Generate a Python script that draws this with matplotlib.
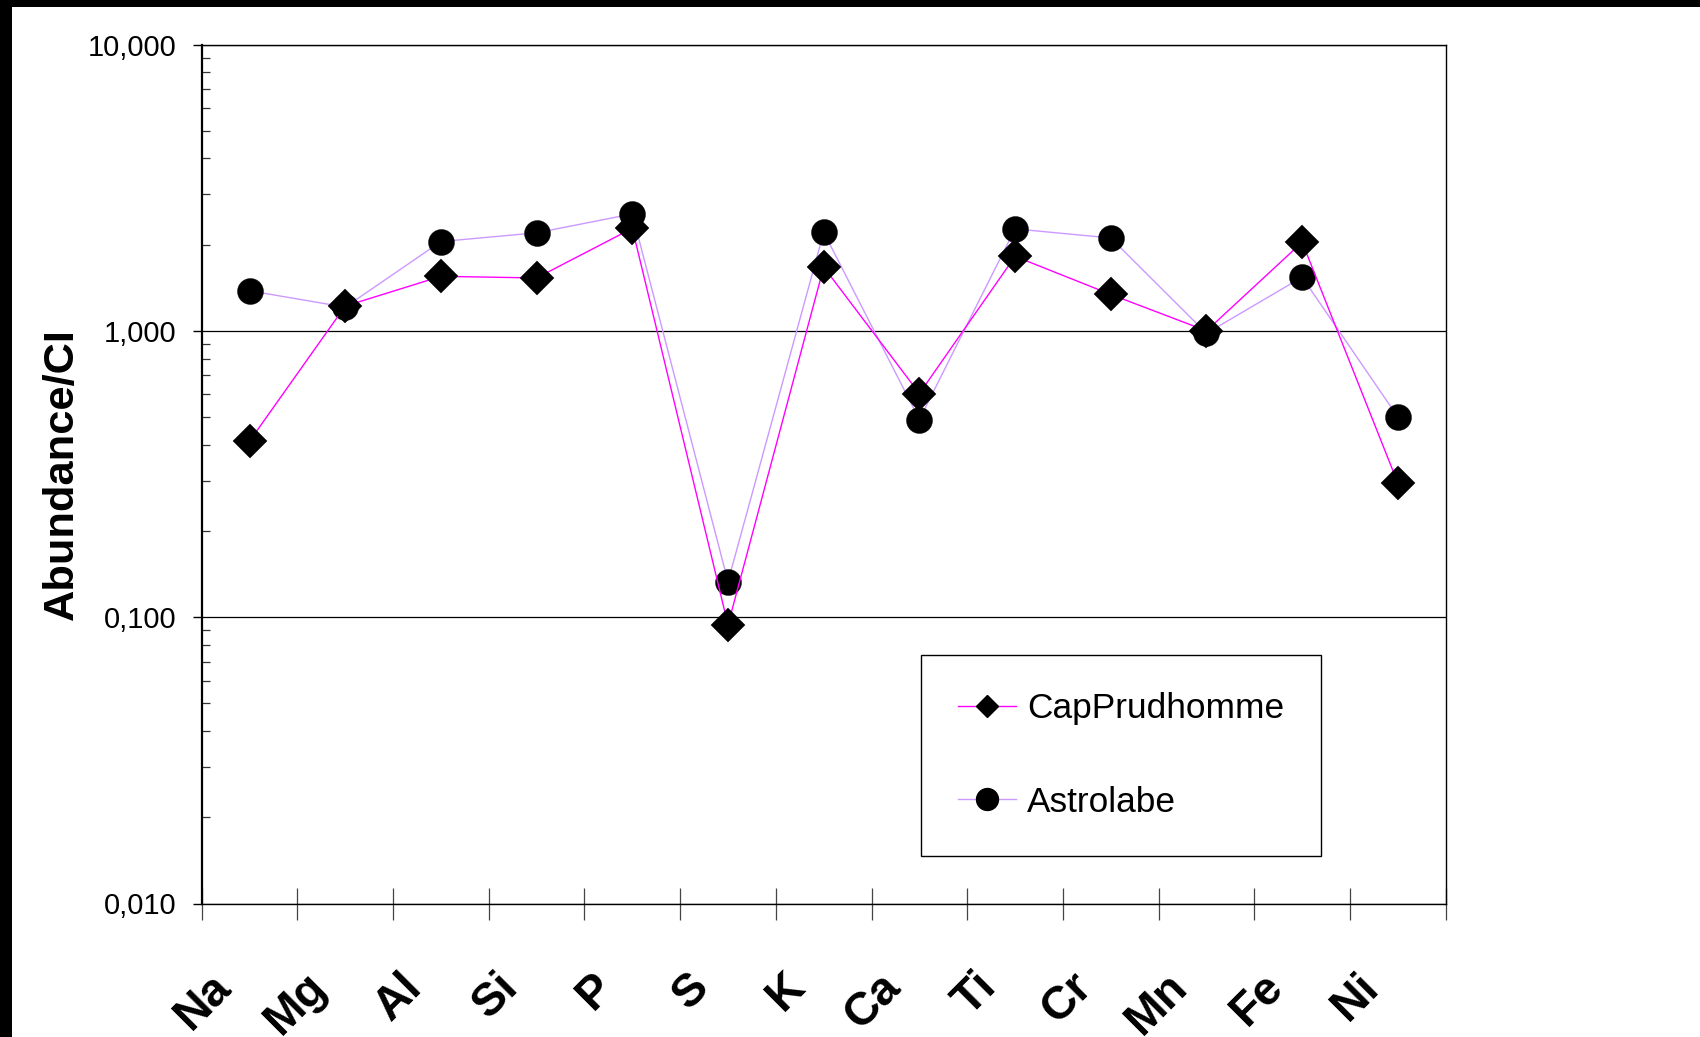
import matplotlib
matplotlib.use("Agg")
import matplotlib.pyplot as plt
from matplotlib.lines import Line2D
from matplotlib.patches import Rectangle
from matplotlib.transforms import ScaledTranslation
from matplotlib.ticker import FixedLocator, NullFormatter, LogLocator

plt.rcParams['font.family'] = ['Liberation Sans', 'DejaVu Sans']

elements = ['Na', 'Mg', 'Al', 'Si', 'P', 'S', 'K', 'Ca', 'Ti', 'Cr', 'Mn', 'Fe', 'Ni']
cap_prudhomme = [0.412, 1.22, 1.55, 1.53, 2.28, 0.094, 1.67, 0.604, 1.82, 1.34, 1.00, 2.04, 0.294]
astrolabe = [1.38, 1.21, 2.05, 2.20, 2.56, 0.133, 2.21, 0.49, 2.27, 2.11, 0.98, 1.54, 0.50]
ytick_values = [0.01, 0.1, 1, 10]
ytick_labels = ['0,010', '0,100', '1,000', '10,000']

fig = plt.figure(figsize=(17, 10.37), dpi=100)
fig.patch.set_facecolor('white')
# black frame strips at top and left of the image
fig.patches.append(Rectangle((0, 1 - 7 / 1037), 1, 7 / 1037, transform=fig.transFigure,
                             facecolor='black', edgecolor='none', zorder=10))
fig.patches.append(Rectangle((0, 0), 12 / 1700, 1, transform=fig.transFigure,
                             facecolor='black', edgecolor='none', zorder=10))

ax = fig.add_axes([201.7 / 1700, 133.5 / 1037, 1244 / 1700, 859 / 1037])

n = len(elements)
xs = [i + 0.5 for i in range(n)]

ax.plot(xs, astrolabe, color='#CC99FF', lw=1.0, marker='o', ms=18.7,
        mfc='black', mec='black', mew=0.3, zorder=3)
ax.plot(xs, cap_prudhomme, color='#FF00FF', lw=1.0, marker='D', ms=17.6,
        mfc='black', mec='black', mew=0.3, zorder=4)

ax.set_yscale('log')
ax.set_ylim(0.01, 10)
ax.set_xlim(0, n)

ax.yaxis.set_major_locator(FixedLocator(ytick_values))
ax.set_yticklabels(ytick_labels, fontsize=21)
ax.yaxis.set_minor_locator(LogLocator(base=10, subs=range(2, 10)))
ax.yaxis.set_minor_formatter(NullFormatter())
ax.tick_params(axis='y', which='major', direction='out', length=6.5, width=1.0, pad=12, colors='black')
ax.tick_params(axis='y', which='minor', direction='in', length=5.5, width=0.9, color='#333333')
ax.yaxis.grid(True, which='major', color='black', lw=0.9)
ax.set_axisbelow(True)

ax.xaxis.set_major_locator(FixedLocator(list(range(n + 1))))
ax.xaxis.set_major_formatter(NullFormatter())
ax.xaxis.set_minor_locator(FixedLocator(xs))
ax.set_xticklabels(elements, minor=True, fontsize=33.5, fontweight='bold', rotation=45,
                   ha='right', va='top')
ax.tick_params(axis='x', which='major', direction='inout', length=23, width=0.9, color='#444444')
ax.tick_params(axis='x', which='minor', length=0, pad=44)
offset = ScaledTranslation(-10 / 100, 0, fig.dpi_scale_trans)
for lab in ax.get_xticklabels(minor=True):
    lab.set_transform(lab.get_transform() + offset)

for side in ['top', 'right', 'bottom']:
    ax.spines[side].set_linewidth(1.0)
    ax.spines[side].set_color('black')
ax.spines['left'].set_linewidth(1.6)

ax.set_ylabel('Abundance/CI', fontsize=31.2, fontweight='bold')
ax.yaxis.set_label_coords(-0.0963, 0.5)

handles = [
    Line2D([], [], color='#FF00FF', lw=1.0, marker='D', ms=11.7, mfc='black', mec='black'),
    Line2D([], [], color='#CC99FF', lw=1.0, marker='o', ms=15.8, mfc='black', mec='black'),
]
leg = ax.legend(handles, ['CapPrudhomme', 'Astrolabe'], loc='upper left',
                bbox_to_anchor=(0.578, 0.2893), fontsize=25.4, frameon=True, fancybox=False,
                edgecolor='black', framealpha=1, borderpad=1.05, labelspacing=1.72,
                handlelength=1.65, handletextpad=0.32, borderaxespad=0)
leg.get_frame().set_linewidth(1.0)

fig.savefig('out.png', dpi=100, facecolor='white')
